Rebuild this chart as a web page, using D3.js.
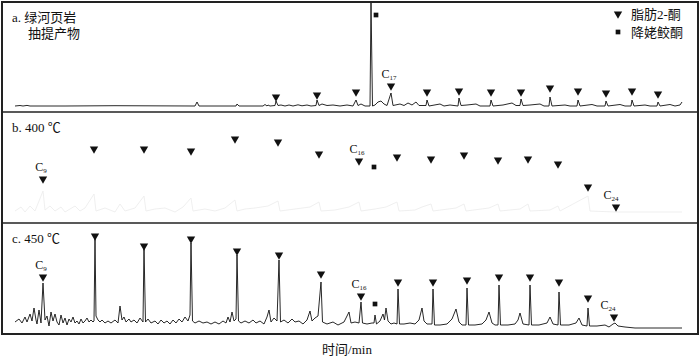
<!DOCTYPE html>
<html>
<head>
<meta charset="utf-8">
<script src="https://cdn.jsdelivr.net/npm/d3@7"></script>
<style>
  body { margin: 0; background: #fff; }
  text, tspan { font-family: "Liberation Serif", "Noto Sans CJK SC", serif; fill: #111; }
</style>
</head>
<body>
<div id="chart"></div>
<script>
// retention time (min) and relative intensity
const traceA = [[0,0],[0.5,0.5],[0.8,0],[1.2,0.6],[1.5,0],[5,0],[10,0.3],[18,0],[18.2,4],[18.4,0],[22.1,0],[22.2,2],[22.4,0],
  [24.8,0],[25.0,1.5],[25.2,0],[25.3,1],[25.5,0],[26.0,0.5],[26.1,5],[26.3,0.5],[26.6,1],[27,0],[27.4,1],[27.8,0],[28.3,1.2],
  [28.7,0.2],[29.2,1],[29.6,0],[30.1,0.5],[30.2,6],[30.4,0.5],[30.7,2],[31.2,0.5],[31.8,1],[32.5,0],[33.2,1],[33.8,0],[34.1,6],
  [34.3,0.5],[34.6,2],[35.0,0],[35.5,0],[35.6,103],[35.75,0],[36.0,1],[36.3,4],[36.6,5],[36.9,2],[37.2,0.5],[37.6,13],[37.8,0.5],
  [38.5,2],[38.9,0.5],[39.3,3],[39.7,1],[40.1,4],[40.4,0.5],[41.1,0.5],[41.2,6],[41.4,0],[42.5,2],[42.9,0],[43.5,1],[44.3,0],
  [44.4,8],[44.6,0.5],[45.2,1],[46.1,2],[46.5,0],[47.5,0],[47.6,6],[47.8,0],[48.8,1],[49.7,3],[50.1,0.5],[50.5,0.5],[50.6,7],
  [50.8,0.5],[51.5,1],[52.5,2],[52.9,0],[53.4,0],[53.5,9],[53.7,0],[55,1],[55.5,0],[56.2,0],[56.3,6],[56.5,0],[57.7,1.5],
  [58.2,0],[59.0,0],[59.1,5],[59.3,0],[60.5,1.5],[61,0],[61.6,0],[61.7,6],[61.9,0],[63,1],[63.5,0],[64.2,0],[64.3,4],[64.5,0],
  [65.5,1.5],[66.0,0],[66.5,1],[66.7,4]];

// 400 C run: trace is almost washed out in the source
const traceB = [[0,5],[0.6,9],[1,4],[1.5,10],[2,5],[2.8,25],[3,6],[3.5,10],[4,5],[4.6,9],[5,4],[6,10],[6.5,5],[7,8],[7.9,22],[8.1,5],
  [9,8],[10,4],[10.5,12],[11,5],[12,8],[12.9,20],[13.1,5],[14,7],[15,8],[16,4],[16.8,9],[17.6,18],[17.8,5],[19,7],[20,5],
  [21,8],[22,16],[22.2,5],[23,7],[24,8],[25.3,10],[26.3,15],[26.5,5],[28,7],[29.5,9],[30.4,14],[30.6,5],[32,6],[33.4,9],
  [34.4,14],[34.6,5],[36,7],[37.1,9],[38.2,14],[38.4,5],[40,6],[40.7,9],[41.6,12],[41.8,5],[44.1,8],[44.9,12],[45.1,5],
  [47.4,8],[48.3,12],[48.5,5],[50.5,7],[51.3,12],[51.5,5],[53.5,6],[54.3,10],[54.5,5],[57.3,20],[57.5,5],[60,4],[66.7,4]];

const traceC = [[0,2],[0.4,5],[0.7,1],[1.0,7],[1.2,2],[1.5,10],[1.7,3],[1.9,16],[2.1,4],[2.2,0],[2.4,14],[2.6,1],[2.8,41],
  [3.0,4],[3.2,8],[3.4,-2],[3.6,12],[3.8,3],[4.0,10],[4.2,2],[4.4,-1],[4.6,9],[4.8,1],[5.0,6],[5.2,-1],[5.4,5],[5.6,2],[5.8,7],
  [6.0,1],[6.2,3],[6.4,0],[6.6,5],[6.8,1],[7.0,3],[7.2,6],[7.4,2],[7.6,4],[7.8,2],[7.9,3],[8.0,86],[8.1,8],[8.3,4],[8.5,2],
  [8.7,4],[9.0,1],[9.3,3],[9.6,1],[10.0,4],[10.3,1],[10.5,18],[10.7,4],[10.9,7],[11.1,2],[11.4,5],[11.6,2],[11.9,4],[12.2,1],
  [12.5,6],[12.8,2],[12.9,76],[13.05,2],[13.3,5],[13.6,1],[14.0,3],[14.3,0],[14.6,4],[14.9,1],[15.2,3],[15.5,0],[15.8,4],
  [16.1,1],[16.4,5],[16.7,2],[17.0,7],[17.3,3],[17.5,9],[17.6,81],[17.75,3],[18.0,1],[18.4,3],[18.8,1],[19.2,2],[19.6,0],
  [20.0,2],[20.4,0],[20.8,3],[21.1,1],[21.3,7],[21.5,2],[21.7,12],[21.9,3],[22.1,5],[22.2,69],[22.35,3],[22.6,1],[23.0,3],
  [23.4,1],[23.8,4],[24.1,1],[24.5,3],[24.9,0],[25.2,7],[25.4,14],[25.6,2],[25.9,6],[26.2,3],[26.4,64],[26.55,2],[26.9,4],
  [27.3,1],[27.7,5],[28.0,2],[28.4,3],[28.8,0],[29.2,4],[29.5,13],[29.7,3],[30.0,6],[30.3,8],[30.6,42],[30.75,2],[31.2,0],
  [31.8,2],[32.3,-1],[32.9,2],[33.4,12],[33.6,1],[34.0,2],[34.4,1],[34.6,22],[34.75,1],[35.2,0],[35.7,1],[35.9,1],[36.0,9],
  [36.15,0],[36.5,3],[36.8,10],[36.95,4],[37.1,16],[37.3,3],[37.6,0],[37.9,1],[38.2,0],[38.3,35],[38.45,0],[38.9,0],[39.5,1],
  [40.0,0],[40.4,4],[40.7,16],[40.9,3],[41.2,0],[41.7,0],[41.8,35],[41.95,-1],[42.5,-1],[43.2,0],[43.7,5],[44.1,15],[44.4,2],
  [44.7,-1],[45.1,-1],[45.2,36],[45.35,-1],[46.0,-1],[46.7,0],[47.1,4],[47.4,12],[47.7,1],[48.0,-1],[48.3,-1],[48.4,39],
  [48.55,-1],[49.3,-1],[50.0,0],[50.3,4],[50.5,11],[50.8,0],[51.4,-1],[51.5,39],[51.65,-1],[52.4,-1],[53.2,1],[53.5,7],
  [53.8,0],[54.3,-1],[54.4,32],[54.55,-1],[55.4,-1],[56.1,1],[56.4,6],[56.7,-1],[57.2,-2],[57.3,16],[57.45,-2],[58.2,-2],
  [59.0,-1],[59.4,-3],[59.8,0],[60.0,1],[60.3,-2],[61.0,-3],[62.0,-4],[66.7,-4]];

// 2-ketone markers (triangle) and prist. ketone (square): [time, level]
const ketonesA = [[26.1,9],[30.2,11],[34.1,14],[37.6,20],[41.2,14],[44.4,15],[47.6,14],[50.6,14],[53.5,18],[56.3,15],[59.1,13],[61.7,15],[64.3,12]];
const squareA = [[36.1,91]];
const ketonesB = [[2.8,37],[7.9,67],[12.9,67],[17.6,65],[22.0,77],[26.3,74],[30.4,62],[34.4,55],[38.2,59],[41.6,57],[44.9,61],[48.3,56],[51.3,57],[54.3,52],[57.3,29],[60.1,9]];
const squareB = [[35.9,49]];
const ketonesC = [[2.8,47],[8.0,88],[12.9,78],[17.6,85],[22.2,73],[26.4,69],[30.6,50],[34.6,28],[38.3,42],[41.8,42],[45.2,44],[48.4,47],[51.5,47],[54.4,42],[57.3,26],[59.9,7]];
const squareC = [[36.0,20]];

// carbon-number labels: [time, level, number]
const carbonA = [[37.6,20,'17']];
const carbonB = [[2.8,37,'9'],[34.4,55,'16'],[59.8,9,'24']];
const carbonC = [[2.8,47,'9'],[34.6,28,'16'],[59.5,7,'24']];

const panelTitles = [['a. 绿河页岩', '抽提产物'], ['b. 400 ℃'], ['c. 450 ℃']];
const legendItems = ['脂肪2-酮', '降姥鲛酮'];
const xTitle = '时间/min';

const width = 700;
const height = 356;

const svg = d3.select('#chart')
  .append('svg')
  .attr('width', width)
  .attr('height', height);

const x = d3.scaleLinear().domain([0, 66.7]).range([15, 682]);

const panels = [
  { top: 2, y: d3.scaleLinear().domain([0, 100]).range([106, 6]),
    trace: traceA, color: '#111', ket: ketonesA, sq: squareA, carb: carbonA },
  { top: 112, y: d3.scaleLinear().domain([0, 100]).range([216, 116]),
    trace: traceB, color: '#ededed', ket: ketonesB, sq: squareB, carb: carbonB },
  { top: 223, y: d3.scaleLinear().domain([0, 100]).range([324, 224]),
    trace: traceC, color: '#111', ket: ketonesC, sq: squareC, carb: carbonC },
];

const tri = d3.symbol().type(d3.symbolTriangle).size(30);
const sqr = d3.symbol().type(d3.symbolSquare).size(22);

panels.forEach((p, i) => {
  const g = svg.append('g');
  const line = d3.line()
    .x((d) => x(d[0]))
    .y((d) => Math.max(p.top + 1, p.y(d[1])));

  g.append('path')
    .datum(p.trace)
    .attr('d', line)
    .attr('fill', 'none')
    .attr('stroke', p.color)
    .attr('stroke-width', 0.9)
    .attr('stroke-linejoin', 'round');

  g.selectAll('path.ket')
    .data(p.ket)
    .join('path')
    .attr('class', 'ket')
    .attr('d', tri)
    .attr('transform', (d) => `translate(${x(d[0])},${p.y(d[1])}) rotate(180)`)
    .attr('fill', '#111');

  g.selectAll('path.sq')
    .data(p.sq)
    .join('path')
    .attr('class', 'sq')
    .attr('d', sqr)
    .attr('transform', (d) => `translate(${x(d[0])},${p.y(d[1])})`)
    .attr('fill', '#111');

  const lab = g.selectAll('text.carb')
    .data(p.carb)
    .join('text')
    .attr('class', 'carb')
    .attr('x', (d) => x(d[0]) - 2)
    .attr('y', (d) => p.y(d[1]) - 8)
    .attr('text-anchor', 'middle')
    .style('font-size', '12px');
  lab.append('tspan').attr('fill', '#111').text('C');
  lab.append('tspan').attr('dy', 2).attr('fill', '#111').style('font-size', '7px').text((d) => d[2]);

  panelTitles[i].forEach((t, k) => {
    g.append('text')
      .attr('x', k === 0 ? 12 : 28)
      .attr('y', p.top + 20 + k * 16)
      .style('font-size', '13px')
      .text(t);
  });
});

// legend
const leg = svg.append('g');
leg.append('path').attr('d', tri).attr('transform', 'translate(618,14) rotate(180)').attr('fill', '#111');
leg.append('path').attr('d', sqr).attr('transform', 'translate(618,32)').attr('fill', '#111');
legendItems.forEach((t, k) => {
  leg.append('text')
    .attr('x', 631)
    .attr('y', 19 + k * 18)
    .style('font-size', '13px')
    .text(t);
});

// frame and dividers
svg.append('rect')
  .attr('x', 2).attr('y', 2)
  .attr('width', 696).attr('height', 332)
  .attr('fill', 'none')
  .attr('stroke', '#222')
  .attr('stroke-width', 2);
[112, 223].forEach((yy) => {
  svg.append('line')
    .attr('x1', 2).attr('x2', 698)
    .attr('y1', yy).attr('y2', yy)
    .attr('stroke', '#222')
    .attr('stroke-width', 1.5);
});

svg.append('text')
  .attr('x', 347)
  .attr('y', 354)
  .attr('text-anchor', 'middle')
  .style('font-size', '13px')
  .text(xTitle);
</script>
</body>
</html>
